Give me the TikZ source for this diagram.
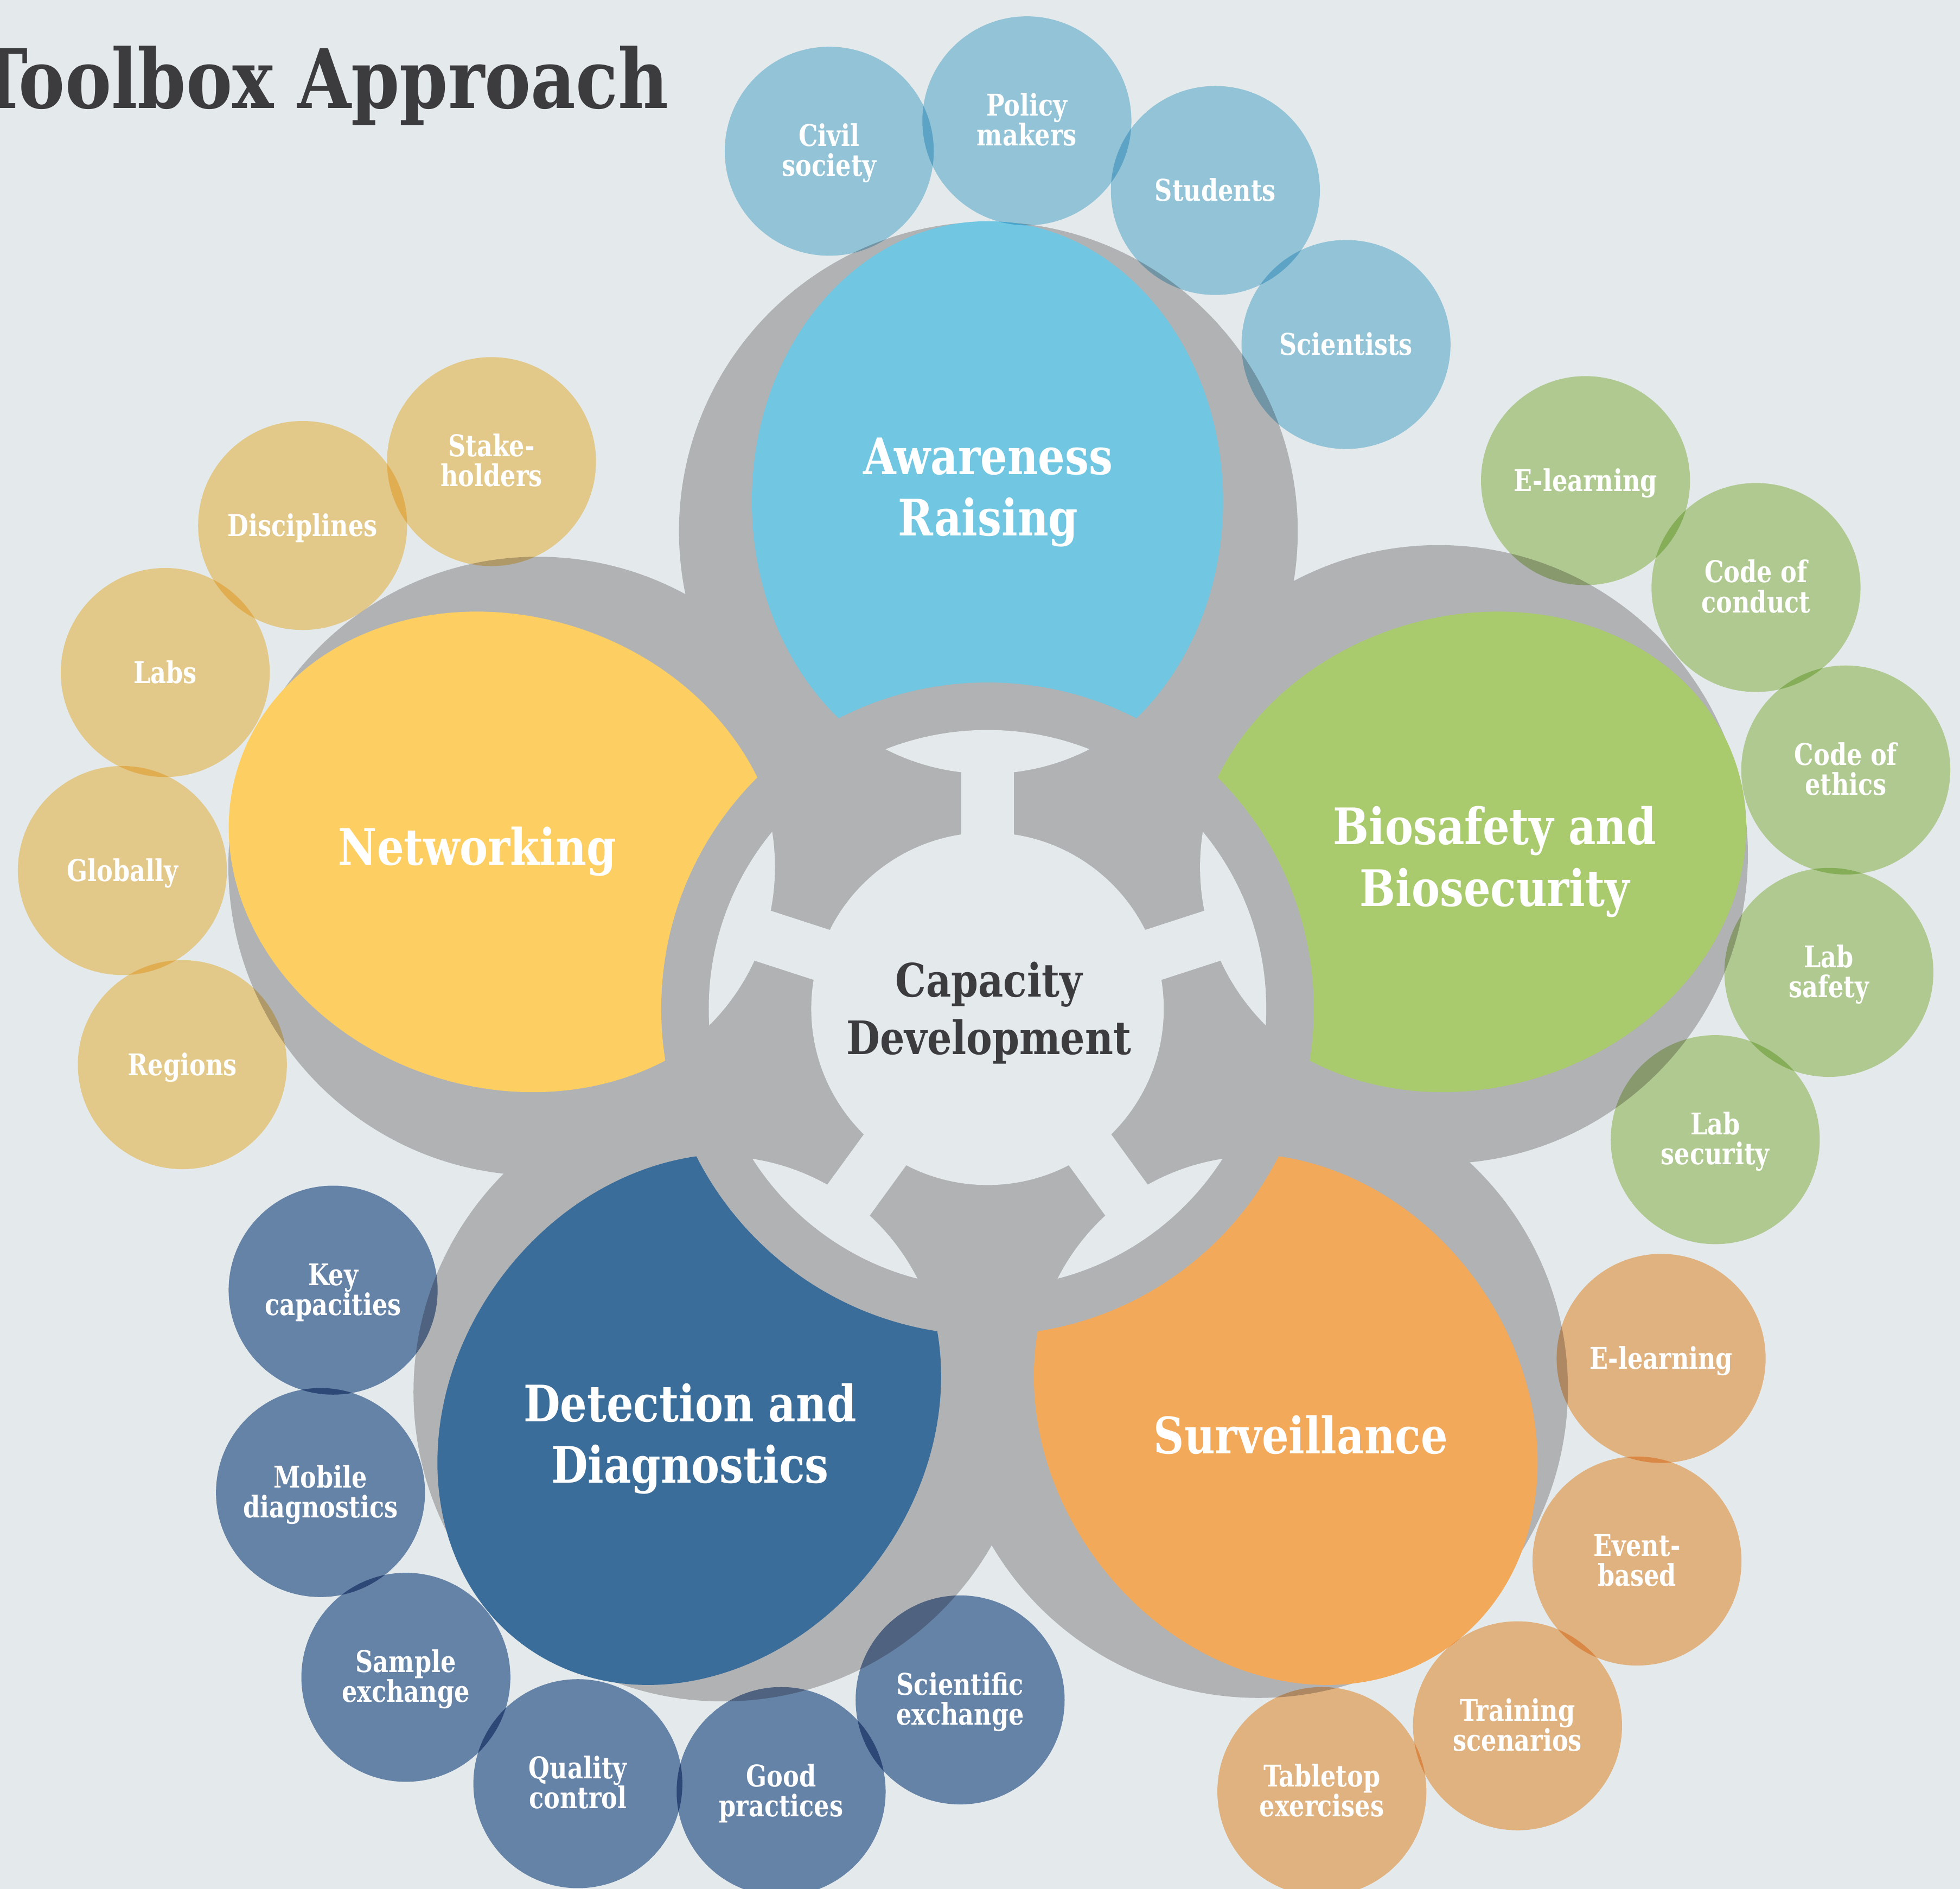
\documentclass[tikz,border=0pt]{standalone}
\usepackage{fontspec}
\setmainfont{DejaVu Serif Condensed}
\newfontfamily\bigf{DejaVu Serif Condensed}[FakeStretch=0.935]
\newfontfamily\smf{DejaVu Serif Condensed}[FakeStretch=0.9]
\newfontfamily\titf{DejaVu Serif Condensed}[FakeStretch=0.94]
\definecolor{bgc}{HTML}{E4E9EB}
\definecolor{grayc}{HTML}{B1B2B4}
\definecolor{awc}{HTML}{71C6E1}
\definecolor{nwc}{HTML}{FDCF62}
\definecolor{bsc}{HTML}{A9CB6E}
\definecolor{ddc}{HTML}{3A6D99}
\definecolor{svc}{HTML}{F3A95A}
\definecolor{txtc}{HTML}{3C3C3F}
\definecolor{smaw}{HTML}{A4D6EA}
\definecolor{smnw}{HTML}{FDDC96}
\definecolor{smbs}{HTML}{C4DC9D}
\definecolor{smdd}{HTML}{728FB6}
\definecolor{smsv}{HTML}{FAC38B}
\tikzset{
  biglab/.style={font=\bigf\bfseries\fontsize{28.6}{35}\selectfont, text=white, align=center, anchor=base, inner sep=0pt},
  hublab/.style={font=\bigf\bfseries\fontsize{26.2}{32.6}\selectfont, text=txtc, align=center, anchor=base, inner sep=0pt},
  smlab/.style={font=\smf\bfseries\fontsize{17}{17}\selectfont, text=white, align=center, anchor=base, inner sep=0pt},
  bub/.style={blend mode=multiply},
  egg/.style={x radius=224, y radius=188.5},
}
\begin{document}
\begin{tikzpicture}[x=0.025cm,y=0.025cm]
\useasboundingbox (0,0) rectangle (1568,1511);
\fill[bgc] (0,0) rectangle (1568,1511);
\clip (0,0) rectangle (1568,1511);
% gray circles
\fill[grayc] (790.7,1086) circle (247.5);
\fill[grayc] (430.2,818.1) circle (247.5);
\fill[grayc] (1150.8,827.4) circle (247.5);
\fill[grayc] (578.3,397.4) circle (247.5);
\fill[grayc] (1006.8,400.2) circle (247.5);
% coloured ellipses
\fill[awc, rotate around={90:(790,1110)}] (790,1110) ellipse [egg];
\fill[nwc, rotate around={162:(403.9,829.5)}] (403.9,829.5) ellipse [egg];
\fill[bsc, rotate around={18:(1176.1,829.5)}] (1176.1,829.5) ellipse [egg];
\fill[ddc, rotate around={234:(551.4,375.5)}] (551.4,375.5) ellipse [egg];
\fill[svc, rotate around={306:(1028.6,375.5)}] (1028.6,375.5) ellipse [egg];
% hub
\begin{scope}[shift={(790,704)}]
  \fill[grayc] (0,0) circle (261);
  \fill[bgc] (0,0) circle (141);
  \foreach \a in {90,162,234,306,18}
    \fill[bgc, rotate=\a] (0,-21) rectangle (205,21);
  \begin{scope}
    \clip (0,0) circle (223);
    \foreach \a in {90,162,234,306,18}
      \fill[bgc] (\a:367) circle (179);
  \end{scope}
\end{scope}
% small bubbles
\fill[smaw, bub] (663.4,1390) circle (83.6);
\fill[smaw, bub] (821.5,1414.3) circle (83.6);
\fill[smaw, bub] (972.3,1358.6) circle (83.6);
\fill[smaw, bub] (1076.8,1235.4) circle (83.6);
\fill[smnw, bub] (393.2,1141.7) circle (83.6);
\fill[smnw, bub] (242.1,1090.6) circle (83.6);
\fill[smnw, bub] (132.2,973) circle (83.6);
\fill[smnw, bub] (97.9,814.6) circle (83.6);
\fill[smnw, bub] (145.9,659.3) circle (83.6);
\fill[smbs, bub] (1268.4,1126.5) circle (83.6);
\fill[smbs, bub] (1404.8,1041) circle (83.6);
\fill[smbs, bub] (1476.6,895) circle (83.6);
\fill[smbs, bub] (1463.1,733.1) circle (83.6);
\fill[smbs, bub] (1372.2,599.3) circle (83.6);
\fill[smdd, bub] (266.5,478.9) circle (83.6);
\fill[smdd, bub] (256.4,317) circle (83.6);
\fill[smdd, bub] (324.7,169.2) circle (83.6);
\fill[smdd, bub] (462.3,84.1) circle (83.6);
\fill[smdd, bub] (624.9,77.8) circle (83.6);
\fill[smdd, bub] (768.1,151.1) circle (83.6);
\fill[smsv, bub] (1328.9,424.3) circle (83.6);
\fill[smsv, bub] (1309.6,262.2) circle (83.6);
\fill[smsv, bub] (1214,130.4) circle (83.6);
\fill[smsv, bub] (1057.5,77.8) circle (83.6);
% title
\node[anchor=base east, inner sep=0pt, text=txtc, font=\titf\bfseries\fontsize{46.6}{50}\selectfont] (title) at (535,1424.6) {Toolbox Approach};
% main labels (anchor = baseline of last line)
\node[hublab] (hub) at (791,667.7) {Capacity\\Development};
\node[biglab] (aw) at (790.5,1082.3) {Awareness\\Raising};
\node[biglab] (nw) at (381.8,819.2) {Networking};
\node[biglab] (bs) at (1195.8,786.2) {Biosafety and\\Biosecurity};
\node[biglab] (dd) at (552,324.6) {Detection and\\Diagnostics};
\node[biglab] (sv) at (1040.6,348.2) {Surveillance};
% small labels
\node[smlab] (l1) at (663.4,1370) {Civil\\society};
\node[smlab] (l2) at (821.5,1394.3) {Policy\\makers};
\node[smlab] (l3) at (972.3,1350.1) {Students};
\node[smlab] (l4) at (1076.8,1226.9) {Scientists};
\node[smlab] (l5) at (393.2,1121.7) {Stake-\\holders};
\node[smlab] (l6) at (242.1,1082.1) {Disciplines};
\node[smlab] (l7) at (132.2,964.5) {Labs};
\node[smlab] (l8) at (97.9,806.1) {Globally};
\node[smlab] (l9) at (145.9,650.8) {Regions};
\node[smlab] (l10) at (1268.4,1118) {E-learning};
\node[smlab] (l11) at (1404.8,1021) {Code of\\conduct};
\node[smlab] (l12) at (1476.6,875) {Code of\\ethics};
\node[smlab] (l13) at (1463.1,713.1) {Lab\\safety};
\node[smlab] (l14) at (1372.2,579.3) {Lab\\security};
\node[smlab] (l15) at (266.5,458.9) {Key\\capacities};
\node[smlab] (l16) at (256.4,297) {Mobile\\diagnostics};
\node[smlab] (l17) at (324.7,149.2) {Sample\\exchange};
\node[smlab] (l18) at (462.3,64.1) {Quality\\control};
\node[smlab] (l19) at (624.9,57.8) {Good\\practices};
\node[smlab] (l20) at (768.1,131.1) {Scientific\\exchange};
\node[smlab] (l21) at (1328.9,415.8) {E-learning};
\node[smlab] (l22) at (1309.6,242.2) {Event-\\based};
\node[smlab] (l23) at (1214,110.4) {Training\\scenarios};
\node[smlab] (l24) at (1057.5,57.8) {Tabletop\\exercises};
\end{tikzpicture}
\end{document}
